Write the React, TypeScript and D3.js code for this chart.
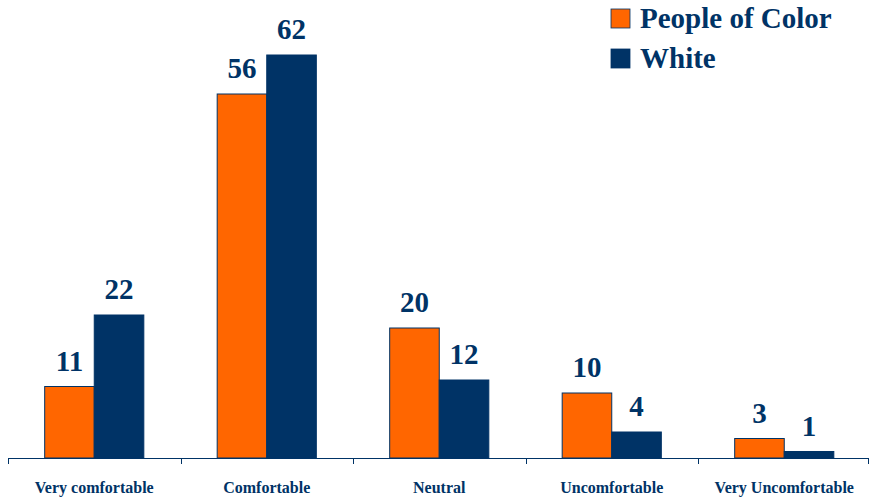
import React, { useEffect, useRef } from 'react';
import * as d3 from 'd3';

const categories = ['Very comfortable', 'Comfortable', 'Neutral', 'Uncomfortable', 'Very Uncomfortable'];
const seriesNames = ['People of Color', 'White'];
const peopleOfColor = [11, 56, 20, 10, 3];
const white = [22, 62, 12, 4, 1];
const colors = ['#FF6600', '#003366'];

const App = () => {
  const ref = useRef(null);

  useEffect(() => {
    const width = 872;
    const height = 497;
    const navy = '#003366';
    const font = "'Times New Roman', 'Liberation Serif', 'DejaVu Serif', serif";

    const svg = d3.select(ref.current)
      .attr('width', width)
      .attr('height', height);
    svg.selectAll('*').remove();

    const x0 = d3.scaleBand().domain(categories).range([8, 870.5]).padding(0);
    const x1 = d3.scaleBand().domain(seriesNames).range([0, x0.bandwidth()])
      .paddingInner(0).paddingOuter(0.74);
    const y = d3.scaleLinear().domain([0, 62]).range([458, 55]);

    const values = [peopleOfColor, white];

    seriesNames.forEach((s, si) => {
      const g = svg.append('g');
      g.selectAll('rect')
        .data(values[si])
        .enter()
        .append('rect')
          .attr('x', (d, i) => x0(categories[i]) + x1(s))
          .attr('y', d => y(d))
          .attr('width', x1.bandwidth())
          .attr('height', d => y(0) - y(d))
          .attr('fill', colors[si])
          .attr('stroke', navy)
          .attr('stroke-width', 1);

      g.selectAll('text')
        .data(values[si])
        .enter()
        .append('text')
          .attr('x', (d, i) => x0(categories[i]) + x1(s) + x1.bandwidth() / 2)
          .attr('y', d => y(d) - 16)
          .attr('text-anchor', 'middle')
          .attr('font-family', font)
          .attr('font-weight', 'bold')
          .attr('font-size', 29)
          .attr('fill', navy)
          .text(d => d);
    });

    // axis
    const axis = svg.append('g');
    axis.append('line')
      .attr('x1', 8).attr('x2', 868)
      .attr('y1', y(0) + 0.5).attr('y2', y(0) + 0.5)
      .attr('stroke', navy);
    const tickXs = categories.map(c => x0(c)).concat([868]);
    axis.selectAll('.tick')
      .data(tickXs)
      .enter().append('line')
        .attr('x1', d => Math.round(d) + 0.5).attr('x2', d => Math.round(d) + 0.5)
        .attr('y1', y(0)).attr('y2', y(0) + 6)
        .attr('stroke', navy);
    axis.selectAll('.lbl')
      .data(categories)
      .enter().append('text')
        .attr('x', d => x0(d) + x0.bandwidth() / 2)
        .attr('y', 493)
        .attr('text-anchor', 'middle')
        .attr('font-family', font)
        .attr('font-weight', 'bold')
        .attr('font-size', 16)
        .attr('fill', navy)
        .text(d => d);

    // Legend
    const legend = svg.selectAll('.legend')
      .data(seriesNames)
      .enter().append('g')
        .attr('transform', (d, i) => `translate(611, ${9 + i * 40})`);
    legend.append('rect')
      .attr('width', 19)
      .attr('height', 19)
      .attr('fill', (d, i) => colors[i])
      .attr('stroke', navy)
      .attr('stroke-width', 0.8);
    legend.append('text')
      .attr('x', 29)
      .attr('y', 19)
      .attr('font-family', font)
      .attr('font-weight', 'bold')
      .attr('font-size', 29)
      .attr('fill', navy)
      .text(d => d);
  }, []);

  return (
    <svg ref={ref} style={{ position: 'absolute', left: 0, top: 0 }} />
  );
};

export default App;
